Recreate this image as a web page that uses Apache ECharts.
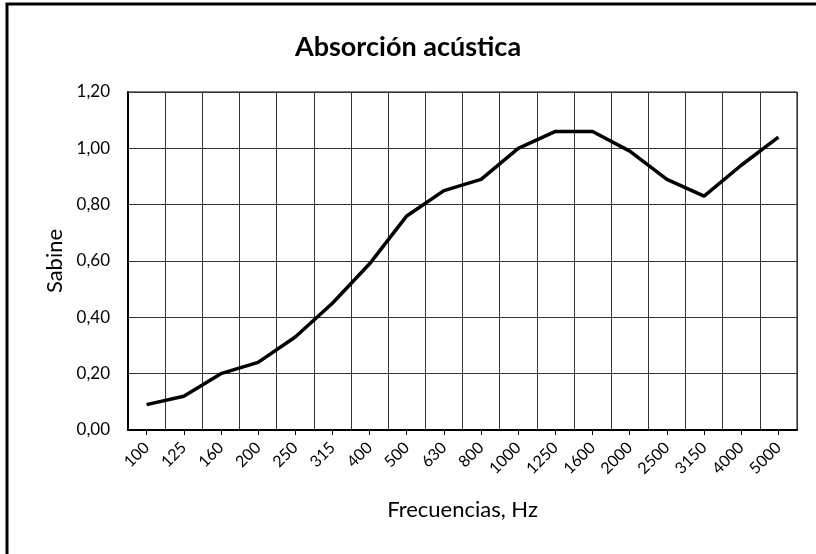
<!DOCTYPE html>
<html>
<head>
<meta charset="utf-8">
<script src="https://cdn.jsdelivr.net/npm/echarts@6/dist/echarts.min.js"></script>
<style>
  html, body { margin: 0; padding: 0; background: #fff; }
  #chart { width: 816px; height: 554px; }
</style>
</head>
<body>
<div id="chart"></div>
<script>
// 频率 (Hz)
const frecuencias = ['100', '125', '160', '200', '250', '315', '400', '500', '630', '800',
  '1000', '1250', '1600', '2000', '2500', '3150', '4000', '5000'];
// 吸声量
const sabine = [0.09, 0.12, 0.20, 0.24, 0.33, 0.45, 0.59, 0.76, 0.85, 0.89,
  1.00, 1.06, 1.06, 0.99, 0.89, 0.83, 0.94, 1.04];

const font = 'Lato, "Open Sans", sans-serif';
const chart = echarts.init(document.getElementById('chart'));

const option = {
  backgroundColor: '#fff',
  animation: false,
  // 外框（只看得到左边和上边）
  graphic: [
    {
      type: 'rect',
      shape: { x: 7, y: 4, width: 900, height: 700 },
      style: { fill: 'none', stroke: '#000', lineWidth: 3 }
    }
  ],
  title: {
    text: 'Absorción acústica',
    left: 'center',
    top: 29,
    textStyle: { fontFamily: font, fontSize: 27, fontWeight: 'bold', color: '#000' }
  },
  grid: {
    left: 128,
    right: 19,
    top: 92,
    bottom: 124,
    show: true,
    borderColor: '#000',
    borderWidth: 1
  },
  xAxis: {
    type: 'category',
    data: frecuencias,
    boundaryGap: true,
    name: 'Frecuencias, Hz',
    nameLocation: 'middle',
    nameGap: 69,
    nameTextStyle: { fontFamily: font, fontSize: 22, color: '#000' },
    axisLine: { lineStyle: { color: '#000', width: 2 } },
    axisTick: { show: true, alignWithLabel: true, length: 5, lineStyle: { color: '#000', width: 1 } },
    axisLabel: {
      rotate: 45,
      interval: 0,
      margin: 15,
      fontFamily: font,
      fontSize: 16,
      color: '#000'
    },
    splitLine: { show: true, interval: 0, lineStyle: { color: '#333', width: 1 } }
  },
  yAxis: {
    type: 'value',
    min: 0,
    max: 1.2,
    interval: 0.2,
    name: 'Sabine',
    nameLocation: 'middle',
    nameGap: 62,
    nameTextStyle: { fontFamily: font, fontSize: 22, color: '#000' },
    axisLine: { show: true, lineStyle: { color: '#000', width: 2 } },
    axisTick: { show: false },
    axisLabel: {
      margin: 18,
      fontFamily: font,
      fontSize: 17,
      color: '#000',
      formatter: (v) => v.toFixed(2).replace('.', ',')
    },
    splitLine: { show: true, lineStyle: { color: '#333', width: 1 } }
  },
  series: [
    {
      type: 'line',
      data: sabine,
      symbol: 'none',
      lineStyle: { color: '#000', width: 3.5 },
      z: 5
    }
  ]
};

chart.setOption(option);
</script>
</body>
</html>
